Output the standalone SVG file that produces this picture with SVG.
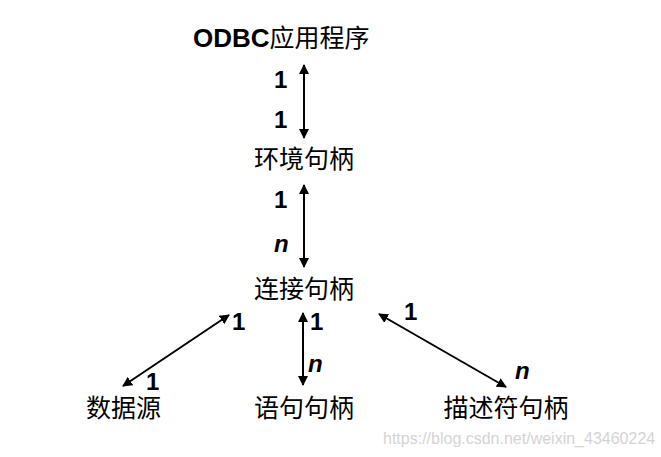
<svg xmlns="http://www.w3.org/2000/svg" width="661" height="457" viewBox="0 0 661 457">
<style>
.node{font-family:"Liberation Serif","Noto Sans CJK SC",serif;font-size:25px;fill:#000;text-anchor:middle}
.lat{font-family:"Liberation Sans",Arial,sans-serif;font-weight:bold;font-size:26px}
.lbl{font-family:"Liberation Sans",Arial,sans-serif;font-weight:bold;font-size:24px;fill:#000}
.it{font-style:italic}
.conn{stroke:#000;stroke-width:2;fill:none;marker-start:url(#ah);marker-end:url(#ah)}
.wm{font-family:"Liberation Sans",Arial,sans-serif;font-size:16px;fill:#d4d4d4}
</style>
<defs>
<marker id="ah" viewBox="0 0 10 10" refX="9" refY="5" markerWidth="5" markerHeight="5" orient="auto-start-reverse" markerUnits="strokeWidth">
<path d="M0,0 L10,5 L0,10 z" fill="#000"/>
</marker>
</defs>
<rect width="661" height="457" fill="#fff"/>
<g id="connectors">
<line class="conn" x1="304" y1="65" x2="304" y2="138"/>
<line class="conn" x1="304" y1="185" x2="304" y2="267"/>
<line class="conn" x1="229" y1="315" x2="123" y2="386"/>
<line class="conn" x1="303" y1="313" x2="303" y2="385"/>
<line class="conn" x1="379" y1="314" x2="506" y2="387"/>
</g>
<g id="labels">
<text class="lbl" x="274" y="88">1</text>
<text class="lbl" x="274" y="128">1</text>
<text class="lbl" x="274" y="208">1</text>
<text class="lbl it" x="274" y="252">n</text>
<text class="lbl" x="232" y="330">1</text>
<text class="lbl" x="146" y="390">1</text>
<text class="lbl" x="310" y="330">1</text>
<text class="lbl it" x="308" y="372">n</text>
<text class="lbl" x="404" y="320">1</text>
<text class="lbl it" x="515" y="379">n</text>
</g>
<g id="odbc"><text x="193" y="47" class="node" style="text-anchor:start"><tspan class="lat">ODBC</tspan>应用程序</text></g>
<g id="env"><text class="node" x="304" y="168">环境句柄</text></g>
<g id="conn"><text class="node" x="304" y="298">连接句柄</text></g>
<g id="ds"><text class="node" x="123.5" y="417">数据源</text></g>
<g id="stmt"><text class="node" x="304" y="417">语句句柄</text></g>
<g id="desc"><text class="node" x="506" y="417">描述符句柄</text></g>
<text class="wm" x="383" y="444">https://blog.csdn.net/weixin_43460224</text>
</svg>
